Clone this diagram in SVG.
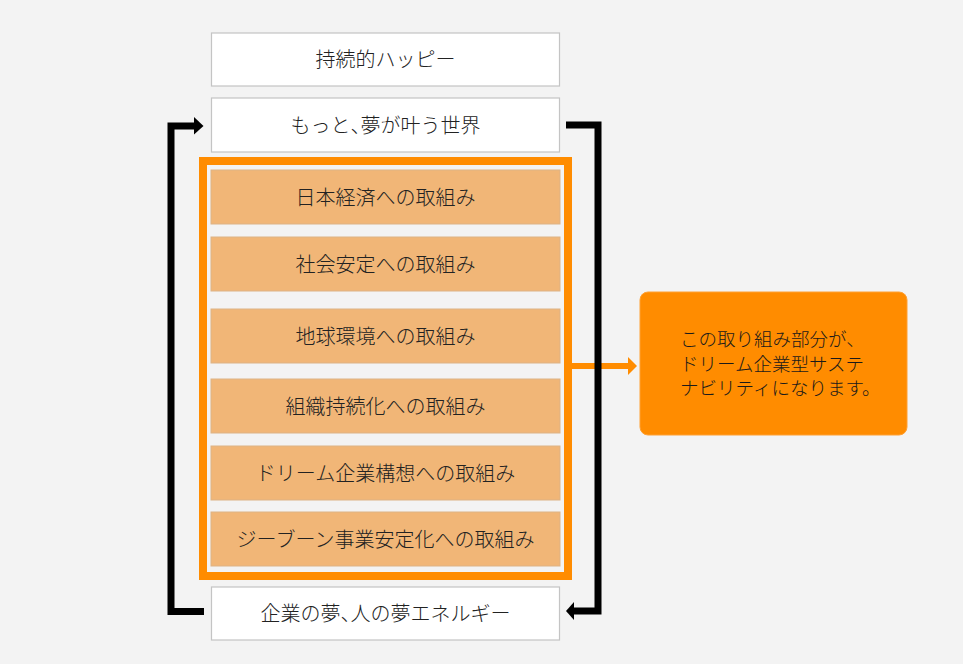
<svg xmlns="http://www.w3.org/2000/svg" width="963" height="664" viewBox="0 0 963 664">
<style>
  .bg{fill:#F3F3F3}
  .wbox{fill:#FFFFFF;stroke:#C4C4C4;stroke-width:1.2}
  .obox{fill:#F1B677;stroke:#DDB386;stroke-width:1}
  .frame{fill:none;stroke:#FF8C00;stroke-width:8}
  .lbl{font-family:"Noto Sans CJK JP","Noto Sans",sans-serif;font-size:20px;font-weight:300;fill:#222222;text-anchor:middle}
  .note{font-family:"Noto Sans CJK JP","Noto Sans",sans-serif;font-size:18.5px;font-weight:300;fill:#1A1A1A}
  .half{font-feature-settings:"halt"}
  .loop{fill:none;stroke:#000000;stroke-width:7;stroke-linejoin:miter}
</style>
<rect class="bg" x="0" y="0" width="963" height="664"/>

<g id="frame">
  <rect class="frame" x="203" y="161" width="365" height="415"/>
</g>

<g id="n-happy">
  <rect class="wbox" x="211.5" y="33" width="348" height="53"/>
  <text class="lbl" x="385.5" y="66.5">持続的ハッピー</text>
</g>
<g id="n-world">
  <rect class="wbox" x="211.5" y="98" width="348" height="54"/>
  <text class="lbl" x="385.5" y="132.5">もっと<tspan class="half">、</tspan>夢が叶う世界</text>
</g>
<g id="n-economy">
  <rect class="obox" x="211" y="170" width="349" height="54"/>
  <text class="lbl" x="385.5" y="204.5">日本経済への取組み</text>
</g>
<g id="n-society">
  <rect class="obox" x="211" y="237" width="349" height="54"/>
  <text class="lbl" x="385.5" y="271.5">社会安定への取組み</text>
</g>
<g id="n-earth">
  <rect class="obox" x="211" y="309" width="349" height="54"/>
  <text class="lbl" x="385.5" y="343.5">地球環境への取組み</text>
</g>
<g id="n-org">
  <rect class="obox" x="211" y="379" width="349" height="54"/>
  <text class="lbl" x="385.5" y="413.5">組織持続化への取組み</text>
</g>
<g id="n-dream">
  <rect class="obox" x="211" y="446" width="349" height="54"/>
  <text class="lbl" x="385.5" y="480.5">ドリーム企業構想への取組み</text>
</g>
<g id="n-gbn">
  <rect class="obox" x="211" y="512" width="349" height="54"/>
  <text class="lbl" x="385.5" y="546.5">ジーブーン事業安定化への取組み</text>
</g>
<g id="n-energy">
  <rect class="wbox" x="211.5" y="587" width="348" height="53"/>
  <text class="lbl" x="385.5" y="621">企業の夢<tspan class="half">、</tspan>人の夢エネルギー</text>
</g>
<g id="n-note">
  <rect x="640" y="292" width="267" height="143" rx="8" ry="8" fill="#FF8C00" stroke="#FFA033" stroke-width="1"/>
  <text class="note" x="680" y="346">この取り組み部分が、</text>
  <text class="note" x="680" y="370.5">ドリーム企業型サステ</text>
  <text class="note" x="680" y="395">ナビリティになります。</text>
</g>

<g id="connectors">
  <line x1="572" y1="366" x2="629" y2="366" stroke="#FF8C00" stroke-width="6"/>
  <polygon points="628,357 637,366 628,375" fill="#FF8C00"/>
  <path class="loop" d="M204 611.5 H171 V126 H195"/>
  <polygon points="194,117 203.5,126 194,134.5" fill="#000000"/>
  <path class="loop" d="M566 125 H598 V611 H573"/>
  <polygon points="574,602 566,611 574,620" fill="#000000"/>
</g>
</svg>
